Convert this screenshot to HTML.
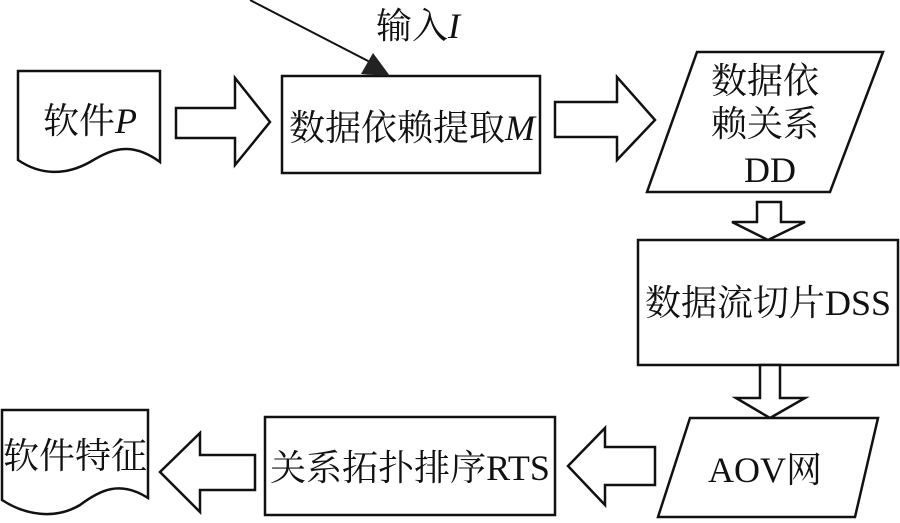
<!DOCTYPE html>
<html><head><meta charset="utf-8"><style>
html,body{margin:0;padding:0;background:#fff;}
svg{display:block}
text{font-family:"Liberation Serif","Noto Serif CJK SC",serif;font-size:36px;fill:#111}
</style></head><body>
<svg width="900" height="523" viewBox="0 0 900 523" xmlns="http://www.w3.org/2000/svg">
<g fill="#fff" stroke="#111" stroke-width="2.5" stroke-linejoin="miter">
<path d="M18,71 H160 V162 C130,140 110,150 90,162 C65,176 40,175 18,160 Z"/>
<path d="M176,108 H235 V78 L270,122 L235,165 V138 H176 Z"/>
<rect x="282" y="76" width="258" height="97"/>
<path d="M555,102 H617 V77 L655,120 L617,160 V137 H555 Z"/>
<path d="M697,52 H883 L830,192 H647 Z"/>
<path d="M757,202 H781 V222 H805 L768,240 L732,222 H757 Z"/>
<rect x="638" y="240" width="260" height="125"/>
<path d="M760,365 H780 V398 H805 L770,418 L736,398 H760 Z"/>
<path d="M690,418 H878 L855,517 H658 Z"/>
<path d="M655,447 V485 H605 V505 L568,466 L605,428 V447 Z"/>
<rect x="265" y="417" width="290" height="98"/>
<path d="M255,455 V490 H200 V512 L160,472 L200,433 V455 Z"/>
<path d="M2,410 H148 V498 C120,480 100,490 80,505 C55,520 25,515 2,500 Z"/>
</g>
<line x1="250" y1="0" x2="370" y2="62" stroke="#111" stroke-width="2"/>
<path d="M390,76 L361,74 L373,53 Z" fill="#222"/>
<text x="376" y="38">输入<tspan font-style="italic">I</tspan></text>
<text x="43" y="133">软件<tspan font-style="italic">P</tspan></text>
<text x="412" y="140" text-anchor="middle">数据依赖提取<tspan font-style="italic">M</tspan></text>
<text x="765" y="93" text-anchor="middle">数据依</text>
<text x="765" y="136" text-anchor="middle">赖关系</text>
<text x="770" y="182" text-anchor="middle">DD</text>
<text x="768" y="315" text-anchor="middle">数据流切片DSS</text>
<text x="765" y="482" text-anchor="middle">AOV网</text>
<text x="410" y="480" text-anchor="middle">关系拓扑排序RTS</text>
<text x="75" y="468" text-anchor="middle">软件特征</text>
</svg>
</body></html>
